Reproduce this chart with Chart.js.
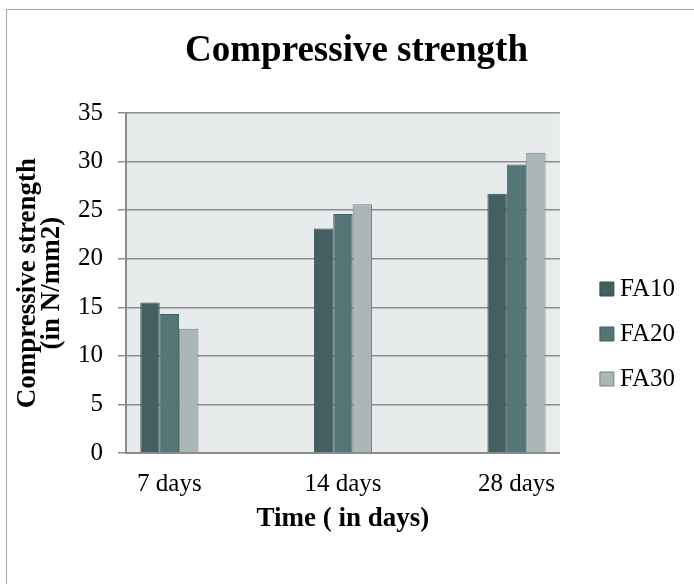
<!DOCTYPE html>
<html>
<head>
<meta charset="utf-8">
<title>Compressive strength</title>
<script src="https://cdn.jsdelivr.net/npm/chart.js@4.4.1/dist/chart.umd.min.js"></script>
<style>
  html, body { margin: 0; padding: 0; background: #ffffff; overflow: hidden; }
  #chart { display: block; }
</style>
</head>
<body>
<canvas id="chart" width="694" height="584"></canvas>
<script>
// categories on the x axis (placed at index 0, 1, 2)
const categories = ['7 days', '14 days', '28 days'];
const categoryIndex = [0, 1, 2];

// compressive strength in N/mm2
const fa10 = [15.5, 23.1, 26.7];
const fa20 = [14.3, 24.6, 29.7];
const fa30 = [12.8, 25.6, 30.9];

const seriesNames = ['FA10', 'FA20', 'FA30'];

const yMin = 0;
const yMax = 35;
const yStep = 5;

(function () {
    const canvas = document.getElementById('chart');
    const ctx = canvas.getContext('2d');

    Chart.defaults.font.family = "'Liberation Serif', 'Times New Roman', serif";
    Chart.defaults.color = '#000000';

    const axisGray = '#8c8c8c';

    // grey plot background
    const plotBackground = {
        id: 'plotBackground',
        beforeDraw(chart) {
            const a = chart.chartArea;
            const c = chart.ctx;
            c.save();
            c.fillStyle = '#e8ebec';
            c.fillRect(a.left, a.top, a.right - a.left, a.bottom - a.top);
            c.restore();
        }
    };

    // thin frame around the whole chart
    const chartFrame = {
        id: 'chartFrame',
        afterDraw(chart) {
            const c = chart.ctx;
            c.save();
            c.strokeStyle = '#a6a6a6';
            c.lineWidth = 1;
            c.strokeRect(6.5, 9.5, chart.width + 20, chart.height + 20);
            c.restore();
        }
    };

    new Chart(ctx, {
        type: 'bar',
        data: {
            labels: categoryIndex,
            datasets: [
                {
                    label: seriesNames[0],
                    data: fa10,
                    backgroundColor: '#445f61',
                    borderColor: '#34504f',
                    borderWidth: 1
                },
                {
                    label: seriesNames[1],
                    data: fa20,
                    backgroundColor: '#547677',
                    borderColor: '#3e6061',
                    borderWidth: 1
                },
                {
                    label: seriesNames[2],
                    data: fa30,
                    backgroundColor: '#abb6b8',
                    borderColor: '#6f8384',
                    borderWidth: 1
                }
            ]
        },
        options: {
            responsive: false,
            animation: false,
            categoryPercentage: 0.335,
            barPercentage: 1,
            layout: { padding: { left: 28, right: 9, top: 0, bottom: 0 } },
            plugins: {
                title: {
                    display: true,
                    text: 'Compressive strength',
                    color: '#000000',
                    font: { size: 37, weight: 'bold', lineHeight: 1.2 },
                    padding: { top: 28.8, bottom: 39.8 }
                },
                legend: {
                    position: 'right',
                    title: {
                        display: true,
                        text: '',
                        font: { size: 10, lineHeight: 1 },
                        padding: { top: 74, bottom: 0 }
                    },
                    labels: {
                        usePointStyle: true,
                        pointStyle: 'rect',
                        boxWidth: 1,
                        boxHeight: 14,
                        padding: 20,
                        color: '#000000',
                        font: { size: 25 }
                    }
                },
                tooltip: { enabled: false }
            },
            scales: {
                x: {
                    type: 'linear',
                    min: -0.25,
                    max: 2.25,
                    offset: false,
                    grid: { display: false, drawTicks: false, tickLength: 0, offset: false },
                    border: { display: true, color: axisGray, width: 2 },
                    ticks: {
                        stepSize: 1,
                        includeBounds: false,
                        autoSkip: false,
                        maxRotation: 0,
                        padding: 16.5,
                        color: '#000000',
                        font: { size: 25, lineHeight: 1.2 },
                        callback: function (value) {
                            return categories[value] !== undefined ? categories[value] : '';
                        }
                    },
                    title: {
                        display: true,
                        text: 'Time ( in days)',
                        color: '#000000',
                        font: { size: 27, weight: 'bold', lineHeight: 0.22 },
                        padding: { top: 0, bottom: 62 }
                    }
                },
                y: {
                    min: yMin,
                    max: yMax,
                    grid: { color: axisGray, lineWidth: 1.5, tickLength: 8 },
                    border: { display: true, color: axisGray, width: 2 },
                    ticks: {
                        stepSize: yStep,
                        padding: 15,
                        color: '#000000',
                        font: { size: 25 }
                    },
                    title: {
                        display: true,
                        text: ['Compressive strength', '(in N/mm2)'],
                        color: '#000000',
                        font: { size: 27, weight: 'bold', lineHeight: 0.9 },
                        padding: { top: -12.5, bottom: -1.1 }
                    }
                },
                // empty spacer between the plot and the legend
                gap: {
                    axis: 'y',
                    position: 'right',
                    display: true,
                    grid: { display: false, drawTicks: false, tickLength: 0 },
                    border: { display: false },
                    ticks: { display: false },
                    afterFit: function (scale) { scale.width = 26.5; }
                }
            }
        },
        plugins: [plotBackground, chartFrame]
    });
})();
</script>
</body>
</html>
